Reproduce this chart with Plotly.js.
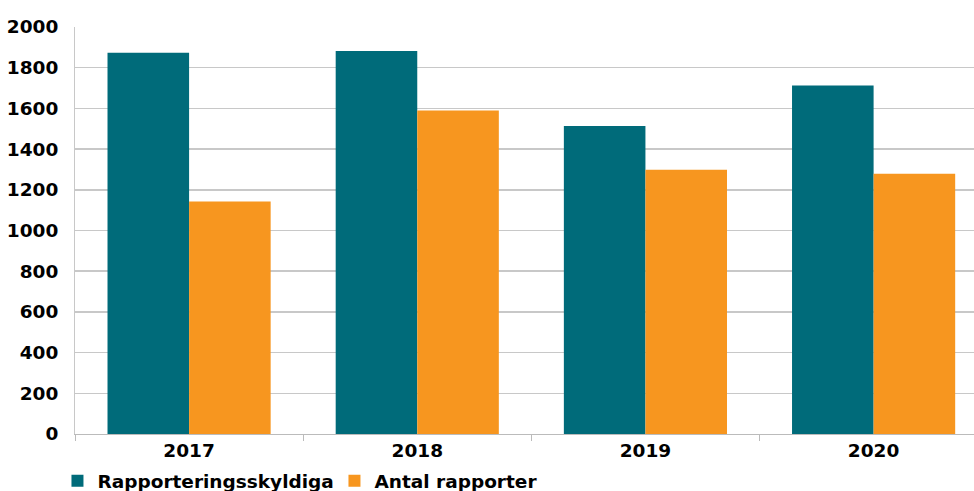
<!DOCTYPE html>
<html>
<head>
<meta charset="utf-8">
<script src="https://cdn.plot.ly/plotly-3.0.1.min.js"></script>
<style>html,body{margin:0;padding:0;background:#fff;}#chart{width:974px;height:491px;}</style>
</head>
<body>
<div id="chart"></div>
<script>
const years = ['2017', '2018', '2019', '2020'];
const rapporteringsskyldiga = [1874, 1882, 1513, 1713];
const antalRapporter = [1143, 1590, 1299, 1279];
const seriesNames = ['Rapporteringsskyldiga', 'Antal rapporter'];
const yTicks = [0, 200, 400, 600, 800, 1000, 1200, 1400, 1600, 1800, 2000];

const font = {family: 'DejaVu Sans, sans-serif', size: 18.5, color: '#000', weight: 'bold'};

const data = [
  {type: 'bar', x: years, y: rapporteringsskyldiga, name: seriesNames[0],
   marker: {color: '#006B7A', line: {width: 0}}},
  {type: 'bar', x: years, y: antalRapporter, name: seriesNames[1],
   marker: {color: '#F7961F', line: {width: 0}}}
];

const layout = {
  width: 974, height: 491,
  margin: {l: 75, r: 0, t: 27, b: 57, pad: 0},
  paper_bgcolor: '#fff', plot_bgcolor: '#fff',
  font: font,
  barmode: 'group', bargap: 0.285, bargroupgap: 0,
  showlegend: true,
  legend: {orientation: 'h', xref: 'container', yref: 'container',
           x: 0.059, xanchor: 'left', y: 0.02, yanchor: 'middle',
           font: font, itemwidth: 30, tracegroupgap: 0,
           entrywidth: 232, entrywidthmode: 'pixels'},
  xaxis: {type: 'category', range: [-0.5, 3.44], tickson: 'boundaries',
          ticks: 'outside', ticklen: 6, tickcolor: '#bbb', tickwidth: 1,
          showline: true, linecolor: '#bbb', linewidth: 1,
          showgrid: false, tickfont: font, fixedrange: true},
  yaxis: {range: [0, 2000], tickvals: yTicks, ticktext: yTicks.map(String),
          showgrid: true, gridcolor: '#c8c8c8', gridwidth: 1.5,
          showline: true, linecolor: '#c8c8c8', linewidth: 1,
          ticks: '', ticklabelstandoff: 12, tickfont: font, zeroline: false, fixedrange: true}
};

Plotly.newPlot('chart', data, layout, {displayModeBar: false, staticPlot: true});
</script>
</body>
</html>
